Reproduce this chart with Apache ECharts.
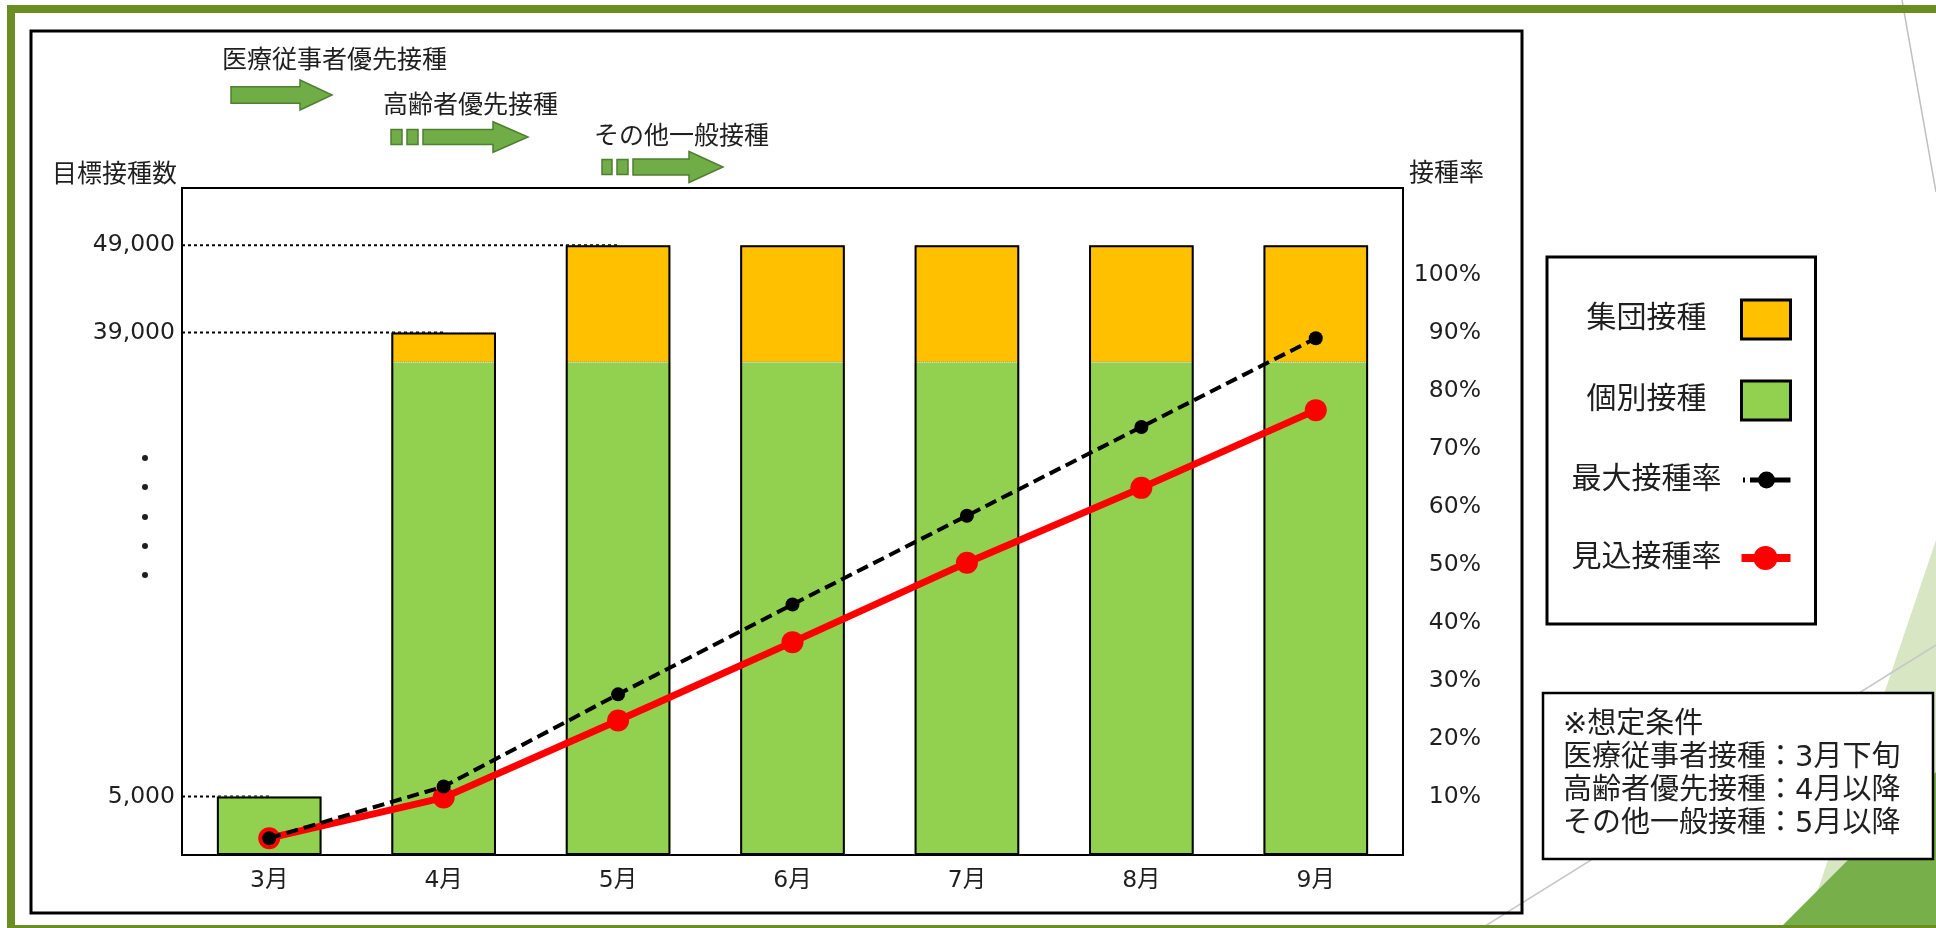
<!DOCTYPE html>
<html>
<head>
<meta charset="utf-8">
<script src="https://cdn.jsdelivr.net/npm/echarts@6/dist/echarts.min.js"></script>
<style>
html,body{margin:0;padding:0;background:#fff;}
#chart{width:1936px;height:928px;}
</style>
</head>
<body>
<div id="chart"></div>
<script>
// ---------------- data ----------------
const months = ['3月', '4月', '5月', '6月', '7月', '8月', '9月'];
const individualShots = [5000, 36800, 36800, 36800, 36800, 36800, 36800];      // 個別接種
const groupShots = ['-', 2200, 12200, 12200, 12200, 12200, 12200];            // 集団接種
const maxRate = [2.9, 11.8, 27.7, 43.2, 58.5, 73.8, 89.1];                    // 最大接種率 (%)
const expectedRate = [2.9, 9.9, 23.2, 36.7, 50.4, 63.3, 76.7];                // 見込接種率 (%)
const countTicks = [5000, 39000, 49000];
const rateTicks = [10, 20, 30, 40, 50, 60, 70, 80, 90, 100];
const seriesNames = ['集団接種', '個別接種', '最大接種率', '見込接種率'];
const leftAxisName = '目標接種数';
const rightAxisName = '接種率';
const phaseLabels = ['医療従事者優先接種', '高齢者優先接種', 'その他一般接種'];
const conditionLines = ['※想定条件', '医療従事者接種：3月下旬', '高齢者優先接種：4月以降', 'その他一般接種：5月以降'];

// ---------------- styling ----------------
const FONT = '"DejaVu Sans", "Noto Sans CJK JP", sans-serif';
const TXT = '#1f1f1f';
const GREEN_BAR = '#92D050';
const YELLOW_BAR = '#FFC000';
const FRAME_GREEN = '#6B8E23';
const ARROW_FILL = '#70AD47';
const ARROW_STROKE = '#507E32';

const totals = individualShots.map((v, i) => v + (typeof groupShots[i] === 'number' ? groupShots[i] : 0));

const guideSeries = countTicks.map(v => {
  const idx = totals.findIndex(t => t >= v);
  return {
    type: 'line', name: 'guide' + v, xAxisIndex: 1, yAxisIndex: 0,
    data: [[-0.5, v], [idx, v]], symbol: 'none', silent: true, z: 1,
    lineStyle: { color: '#000', width: 2, type: [3, 3] }
  };
});

function arrowPts(x0, x1, x2, cy, hs, hh) {
  return [[x0, cy - hs], [x1, cy - hs], [x1, cy - hh], [x2, cy], [x1, cy + hh], [x1, cy + hs], [x0, cy + hs]];
}
const arrowStyle = { fill: ARROW_FILL, stroke: ARROW_STROKE, lineWidth: 1.5 };

const blackIcon = 'path://M0 0h0.05v0.05h-0.05z M1.5 17h2v5h-2z M8.5 17h40.5v5h-40.5z M33.5 19.5a8.5 8.5 0 1 1 -17 0a8.5 8.5 0 1 1 17 0z M48.95 38.95h0.05v0.05h-0.05z';
const redIcon = 'path://M0 0h0.05v0.05h-0.05z M0 15.5h49v8h-49z M36 19.5a12 12 0 1 1 -24 0a12 12 0 1 1 24 0z M48.95 38.95h0.05v0.05h-0.05z';

const graphics = [
  // slide decoration
  { type: 'polygon', shape: { points: [[1936, 540], [1936, 928], [1805, 928]] }, style: { fill: '#D8E6C3' }, silent: true },
  { type: 'polygon', shape: { points: [[1936, 772], [1936, 928], [1780, 928]] }, style: { fill: '#77B04A' }, silent: true },
  { type: 'line', shape: { x1: 1902, y1: 0, x2: 1936, y2: 192 }, style: { stroke: '#C0C0C0', lineWidth: 1.5 }, silent: true },
  { type: 'line', shape: { x1: 1482, y1: 928, x2: 1936, y2: 645 }, style: { stroke: '#C8C8C8', lineWidth: 1.5 }, silent: true },
  // green frame
  { type: 'rect', shape: { x: 7, y: 5, width: 8, height: 923 }, style: { fill: FRAME_GREEN }, silent: true },
  { type: 'rect', shape: { x: 7, y: 5, width: 1929, height: 8 }, style: { fill: FRAME_GREEN }, silent: true },
  { type: 'rect', shape: { x: 7, y: 925, width: 1929, height: 3 }, style: { fill: FRAME_GREEN }, silent: true },
  // chart area frame
  { type: 'rect', shape: { x: 31, y: 31, width: 1491, height: 882 }, style: { fill: 'none', stroke: '#000', lineWidth: 3 }, silent: true },
  // left axis title
  { type: 'text', style: { text: leftAxisName, x: 177, y: 175, align: 'right', verticalAlign: 'middle', fontSize: 25, fontFamily: FONT, fill: TXT }, silent: true },
  // phase annotations
  { type: 'text', style: { text: phaseLabels[0], x: 222, y: 61, fontSize: 25, fontFamily: FONT, fill: TXT, verticalAlign: 'middle' }, silent: true },
  { type: 'polygon', shape: { points: arrowPts(231, 300, 332, 95, 8.3, 15) }, style: arrowStyle, silent: true },
  { type: 'text', style: { text: phaseLabels[1], x: 383, y: 106, fontSize: 25, fontFamily: FONT, fill: TXT, verticalAlign: 'middle' }, silent: true },
  { type: 'rect', shape: { x: 391, y: 129.5, width: 11, height: 15 }, style: arrowStyle, silent: true },
  { type: 'rect', shape: { x: 407, y: 129.5, width: 11, height: 15 }, style: arrowStyle, silent: true },
  { type: 'polygon', shape: { points: arrowPts(423, 493, 528, 137, 7.5, 15.3) }, style: arrowStyle, silent: true },
  { type: 'text', style: { text: phaseLabels[2], x: 594, y: 137.5, fontSize: 25, fontFamily: FONT, fill: TXT, verticalAlign: 'middle' }, silent: true },
  { type: 'rect', shape: { x: 602, y: 159.5, width: 10, height: 15 }, style: arrowStyle, silent: true },
  { type: 'rect', shape: { x: 617, y: 159.5, width: 11, height: 15 }, style: arrowStyle, silent: true },
  { type: 'polygon', shape: { points: arrowPts(633, 689, 723, 167, 8, 15.5) }, style: arrowStyle, silent: true },
  // axis break dots
  ...[458, 487, 517, 546, 575].map(y => ({ type: 'circle', shape: { cx: 145, cy: y, r: 3 }, style: { fill: TXT }, silent: true })),
  // conditions box
  { type: 'rect', shape: { x: 1543, y: 693, width: 390, height: 166 }, style: { fill: '#fff', stroke: '#000', lineWidth: 2.5 }, silent: true },
  { type: 'text', style: { text: conditionLines.join('\n'), x: 1563, y: 708.5, fontSize: 29, lineHeight: 33, fontFamily: FONT, fill: TXT, verticalAlign: 'top' }, silent: true }
];

const chart = echarts.init(document.getElementById('chart'), null, { renderer: 'canvas' });
chart.setOption({
  animation: false,
  backgroundColor: '#fff',
  textStyle: { fontFamily: FONT, color: TXT },
  grid: {
    left: 182, right: 533, top: 188, bottom: 73,
    show: true, borderColor: '#000', borderWidth: 2, backgroundColor: '#fff',
    outerBoundsMode: 'none'
  },
  legend: {
    orient: 'vertical', left: 1547, top: 257, align: 'right',
    itemWidth: 49, itemHeight: 39, itemGap: 39,
    padding: [41.5, 23.5, 46.5, 24.5],
    borderColor: '#000', borderWidth: 3, backgroundColor: '#fff',
    selectedMode: false,
    formatter: '{a|{name}}',
    textStyle: {
      fontFamily: FONT, fontSize: 30, color: TXT,
      rich: { a: { width: 180, align: 'center', fontSize: 30, fontFamily: FONT, color: TXT } }
    },
    data: [
      { name: seriesNames[0], icon: 'rect', itemStyle: { color: YELLOW_BAR, borderColor: '#000', borderWidth: 3, borderType: 'solid' } },
      { name: seriesNames[1], icon: 'rect', itemStyle: { color: GREEN_BAR, borderColor: '#000', borderWidth: 3, borderType: 'solid' } },
      { name: seriesNames[2], icon: blackIcon, itemStyle: { color: '#000', borderWidth: 0 } },
      { name: seriesNames[3], icon: redIcon, itemStyle: { color: '#FF0000', borderWidth: 0 } }
    ]
  },
  xAxis: [
    {
      type: 'category', data: months, boundaryGap: true,
      axisLine: { show: false }, axisTick: { show: false }, splitLine: { show: false },
      axisLabel: { fontSize: 23.5, fontFamily: FONT, color: TXT, margin: 14 }
    },
    { type: 'value', min: -0.5, max: 6.5, show: false }
  ],
  yAxis: [
    {
      type: 'value', position: 'left', min: 0, max: 53200,
      breaks: [
        { start: 1000, end: 2000, gap: 289 },
        { start: 41000, end: 47000, gap: 2379 }
      ],
      breakArea: { show: false },
      axisLine: { show: false }, axisTick: { show: false }, splitLine: { show: false },
      axisLabel: {
        customValues: countTicks, fontSize: 23.5, fontFamily: FONT, color: TXT, margin: 7,
        formatter: v => Number(v).toLocaleString('en-US')
      }
    },
    {
      type: 'value', position: 'right', min: 0, max: 115,
      axisLine: { show: false }, axisTick: { show: false }, splitLine: { show: false },
      axisLabel: {
        customValues: rateTicks, fontSize: 23.5, fontFamily: FONT, color: TXT,
        align: 'right', margin: 78, formatter: '{value}%'
      },
      name: rightAxisName, nameLocation: 'end', nameGap: 1,
      nameTextStyle: { fontSize: 25, fontFamily: FONT, color: TXT, align: 'left', verticalAlign: 'bottom', padding: [0, 0, 0, 6] }
    }
  ],
  series: [
    {
      type: 'bar', name: seriesNames[1], stack: 'shots', data: individualShots,
      barWidth: '60%', barGap: '-100%',
      itemStyle: { color: GREEN_BAR, borderWidth: 0 }, z: 2
    },
    {
      type: 'bar', name: seriesNames[0], stack: 'shots', data: groupShots,
      barWidth: '60%', barGap: '-100%',
      itemStyle: { color: YELLOW_BAR, borderColor: '#9a9a9a', borderWidth: 1, borderType: 'dotted' }, z: 2
    },
    {
      type: 'bar', name: 'outline', data: totals, barWidth: '60%', barGap: '-100%', silent: true,
      itemStyle: { color: 'rgba(0,0,0,0)', borderColor: '#000', borderWidth: 2 }, z: 3
    },
    ...guideSeries,
    {
      type: 'line', name: seriesNames[3], yAxisIndex: 1, data: expectedRate,
      symbol: 'circle', symbolSize: 22, itemStyle: { color: '#FF0000' },
      lineStyle: { color: '#FF0000', width: 7 }, z: 4
    },
    {
      type: 'line', name: seriesNames[2], yAxisIndex: 1, data: maxRate,
      symbol: 'circle', symbolSize: 14, itemStyle: { color: '#000' },
      lineStyle: { color: '#000', width: 4, type: [12, 6] }, z: 5
    }
  ],
  graphic: { elements: graphics }
});
</script>
</body>
</html>
